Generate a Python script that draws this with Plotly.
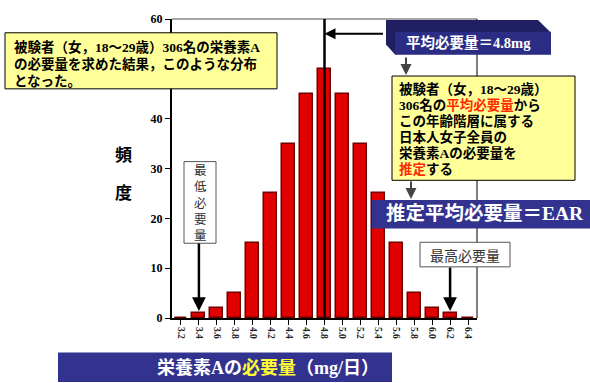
import plotly.graph_objects as go

# Distribution of requirement for nutrient A (306 women aged 18-29)
categories = ["3.2", "3.4", "3.6", "3.8", "4.0", "4.2", "4.4", "4.6", "4.8",
              "5.0", "5.2", "5.4", "5.6", "5.8", "6.0", "6.2", "6.4"]
counts = [0, 1, 2, 5, 15, 25, 35, 45, 50, 45, 35, 25, 15, 5, 2, 1, 0]
y_ticks = [0, 10, 20, 30, 40, 50, 60]
y_ticktext = ["0", "10", "20", "30", "40", "", "60"]  # 50 sits under the note box
mean_requirement = 4.8

W, H = 590, 383
L, R, T, B = 172, 113, 14, 65
PW, PH = W - L - R, H - T - B
Y_MAX = 60

NAVY = "#32338f"
YELLOW_BG = "#ffff99"
RED_TXT = "#ff2a00"
SERIF_CJK = "Liberation Serif, Times New Roman, Noto Sans CJK JP, sans-serif"
GOTHIC = "Noto Sans CJK JP, sans-serif"


def px(x):
    return (x - L) / PW


def py(y):
    return (H - B - y) / PH


def val_to_pix(v):
    return H - B - v / Y_MAX * PH


fig = go.Figure(go.Bar(
    x=list(range(len(categories))), y=counts, width=0.72,
    marker=dict(color="#e00000", line=dict(color="#700000", width=1.5)),
))

shapes = []
annotations = []


def rect(x0, y0, x1, y1, fill, line_color=None, lw=1):
    shapes.append(dict(
        type="rect", xref="paper", yref="paper",
        x0=px(x0), x1=px(x1), y0=py(y1), y1=py(y0),
        fillcolor=fill,
        line=dict(color=line_color or fill, width=lw if line_color else 0),
        layer="above"))


def poly(points, fill):
    path = "M " + " L ".join(f"{px(a):.5f},{py(b):.5f}" for a, b in points) + " Z"
    shapes.append(dict(type="path", xref="paper", yref="paper", path=path,
                       fillcolor=fill, line=dict(width=0), layer="above"))


def text(x, y, s, size, color="black", family=SERIF_CJK, xanchor="left", height=None):
    a = dict(
        xref="paper", yref="paper", x=px(x), y=py(y), text=s, showarrow=False,
        xanchor=xanchor, yanchor="middle", borderpad=0,
        font=dict(size=size, color=color, family=family))
    if height:
        a["height"] = height
    annotations.append(a)


def arrow(x_head, y_head, dx, dy, color="black", width=2, xref="paper", yref="paper"):
    annotations.append(dict(
        xref=xref, yref=yref, x=x_head, y=y_head, ax=dx, ay=dy, text="",
        showarrow=True, arrowhead=2, arrowsize=1.1, arrowwidth=width,
        arrowcolor=color, standoff=0))


# frame lines (top and right)
shapes.append(dict(type="line", xref="paper", yref="paper", x0=0, x1=1, y0=1, y1=1,
                   line=dict(color="#8a8a8a", width=1.5), layer="above"))
shapes.append(dict(type="line", xref="paper", yref="paper", x0=1, x1=1, y0=0, y1=1,
                   line=dict(color="black", width=1), layer="above"))

# vertical line at the mean requirement
mean_idx = categories.index(f"{mean_requirement:.1f}")
shapes.append(dict(type="line", xref="x", yref="paper", x0=mean_idx, x1=mean_idx,
                   y0=0, y1=1, line=dict(color="black", width=2.5), layer="above"))

# upper-left note
rect(5, 28, 277, 85, YELLOW_BG, "black", 1)
text(13, 42, "<b>被験者（女，18〜29歳）306名の栄養素A</b>", 13.5, height=16)
text(13, 60, "<b>の必要量を求めた結果，このような分布</b>", 13.5, height=16)
text(13, 77, "<b>となった。</b>", 13.5, height=16)

# bevelled label box for the mean
poly([(386, 15), (538, 15), (551, 28), (551, 50), (395, 50), (386, 40)], "#1f1f62")
rect(395, 27, 551, 50, "#2b2d84")
text(468, 38, f"<b>平均必要量＝{mean_requirement}mg</b>", 14.5, "white", xanchor="center")
arrow(mean_idx, (H - B - 29) / PH * Y_MAX, 60, 0, xref="x", yref="y")

# right-hand explanation
arrow(px(406), py(71), 0, -19, color="#444444", width=2)
rect(392, 72, 575, 178, YELLOW_BG, "black", 1)
red = lambda s: f"<span style='color:{RED_TXT}'>{s}</span>"
lines2 = [
    "<b>被験者（女，18〜29歳）</b>",
    f"<b>306名の{red('平均必要量')}から</b>",
    "<b>この年齢階層に属する</b>",
    "<b>日本人女子全員の</b>",
    "<b>栄養素Aの必要量を</b>",
    f"<b>{red('推定')}する</b>",
]
for i, s in enumerate(lines2):
    text(398, 85 + i * 16.4, s, 13.5, height=16)
arrow(px(411), py(197), 0, -19, color="#444444", width=2)

# EAR banner
rect(372, 198, 590, 227, NAVY)
text(485, 212, "<b>推定平均必要量＝EAR</b>", 19.5, "white", xanchor="center")

# minimum requirement (vertical label)
rect(184, 159, 216, 242, "white", "#555555", 1)
text(200, 200.5, "<br>".join("最低必要量"), 12.5, "#333333", GOTHIC, xanchor="center")
nonzero = [i for i, v in enumerate(counts) if v > 0]
min_idx = nonzero[0]
head_v = counts[min_idx] + 0.4
arrow(min_idx, head_v, 0, 242 - val_to_pix(head_v), xref="x", yref="y", width=2.5)

# maximum requirement
rect(420, 241, 510, 266, "white", "#555555", 1)
text(465, 253.5, "最高必要量", 14, "#333333", GOTHIC, xanchor="center")
max_idx = nonzero[-1]
head_v = counts[max_idx] + 0.4
arrow(max_idx, head_v, 0, 266 - val_to_pix(head_v), xref="x", yref="y", width=2.5)

# y-axis caption
text(123, 153, "<b>頻</b>", 17, xanchor="center")
text(123, 191, "<b>度</b>", 17, xanchor="center")

# x-axis caption banner
rect(58, 353, 392, 383, NAVY)
text(268, 368, "<b>栄養素Aの<span style='color:#ffff33'>必要量</span>（mg/日）</b>",
     18, "white", xanchor="center")

fig.update_layout(
    width=W, height=H,
    margin=dict(l=L, r=R, t=T, b=B, pad=0),
    paper_bgcolor="white", plot_bgcolor="white",
    showlegend=False, bargap=0,
    shapes=shapes, annotations=annotations,
    xaxis=dict(
        tickmode="array", tickvals=list(range(len(categories))), ticktext=categories,
        range=[-0.5, len(categories) - 0.5],
        showline=True, linecolor="black", linewidth=2,
        ticks="outside", ticklen=5, tickcolor="black", tickwidth=1,
        tickangle=90, showgrid=False, zeroline=False,
        tickfont=dict(size=9.5, family=SERIF_CJK, color="#222222", weight="bold"),
    ),
    yaxis=dict(
        range=[0, Y_MAX], tickmode="array", tickvals=y_ticks, ticktext=y_ticktext,
        showline=True, linecolor="black", linewidth=2,
        ticks="outside", ticklen=5, tickcolor="black", tickwidth=1,
        showgrid=False, zeroline=False,
        tickfont=dict(size=12, family=SERIF_CJK, color="black", weight="bold"),
    ),
)

fig.write_html("out.html")
